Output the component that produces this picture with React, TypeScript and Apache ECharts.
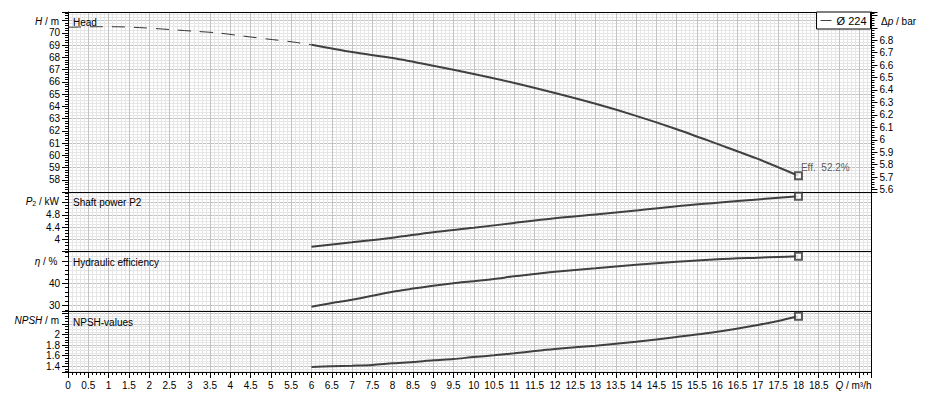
import React, { useEffect, useRef } from "react";
import * as echarts from "echarts";

// ---------- data ----------
// flow axis
const qMin = 0;
const qMax = 19.8;
const qLabelMax = 18.5;

// Head H / m  (dashed extrapolated part and solid operating part)
const headDashedQ = [0, 0.8, 1.4, 1.9, 2.5, 3.1, 3.7, 4.3, 4.9, 5.5, 6];
const headDashedH = [70.45, 70.5, 70.48, 70.4, 70.27, 70.13, 69.99, 69.74, 69.5, 69.27, 69.03];
const headQ = [6, 7, 8, 9, 10, 11, 12, 13, 14, 15, 16, 17, 18];
const headH = [69.03, 68.43, 67.94, 67.31, 66.63, 65.9, 65.08, 64.2, 63.22, 62.13, 60.93, 59.7, 58.33];

// Shaft power P2 / kW
const powerQ = [6, 7, 8, 9, 10, 11, 12, 13, 14, 15, 16, 17, 18];
const powerP = [3.77, 3.91, 4.06, 4.24, 4.38, 4.54, 4.69, 4.81, 4.94, 5.08, 5.19, 5.3, 5.4];

// Hydraulic efficiency / %
const effQ = [6, 6.5, 7, 7.5, 8, 8.5, 9, 9.5, 10, 10.5, 11, 11.5, 12, 13, 14, 15, 16, 17, 17.5, 18];
const effE = [29.5, 31.2, 32.6, 34.4, 36.2, 37.6, 38.9, 40.0, 40.9, 41.9, 43.1, 44.1, 45.1, 46.7, 48.3, 49.6, 50.7, 51.4, 51.7, 52.0];

// NPSH / m
const npshQ = [6, 6.5, 7, 7.5, 8, 8.5, 9, 9.5, 10, 10.5, 11, 11.5, 12, 13, 14, 15, 16, 17, 17.5, 18];
const npshN = [1.385, 1.398, 1.409, 1.423, 1.455, 1.479, 1.512, 1.536, 1.574, 1.606, 1.644, 1.688, 1.726, 1.788, 1.864, 1.953, 2.053, 2.18, 2.256, 2.345];

// end point annotation
const effAtEnd = 52.2;
const impellerName = "Ø 224";

// axis ranges and label ranges
const headRange = [57, 71.7];
const headLabels = [58, 70];
const dpRange = [5.58, 7.027];
const dpLabels = [5.6, 6.8];
const powerRange = [3.63, 5.54];
const powerLabels = [4, 4.8];
const effRange = [27.6, 54.4];
const effLabels = [30, 40];
const npshRange = [1.29, 2.445];
const npshLabels = [1.4, 2];

// ---------- styling ----------
const FONT = "'Liberation Sans', Arial, sans-serif";
const DARK_GRID = "#c3c3c3";
const LIGHT_GRID = "#e6e6e6";
const CURVE = "#404040";
const GRID_LEFT = 68;
const GRID_RIGHT = 67.5;
const panels = [
  { top: 12, height: 180 },
  { top: 192, height: 59 },
  { top: 251, height: 60 },
  { top: 311, height: 61 },
];

const isMult = (v: number, step: number) => Math.abs(v / step - Math.round(v / step)) < 1e-6;
const fmt = (v: number) => String(Math.round(v * 1000) / 1000);
const labelFn = (step: number, lo: number, hi: number) => (v: number) =>
  v >= lo - 1e-6 && v <= hi + 1e-6 && isMult(v, step) ? fmt(v) : "";

const zip = (a: number[], b: number[]) => a.map((x, i) => [x, b[i]]);

function buildOption(): any {
  const grids = panels.map((p) => ({
    left: GRID_LEFT,
    right: GRID_RIGHT,
    top: p.top,
    height: p.height,
    containLabel: false,
    outerBoundsMode: "none",
  }));

  const xAxes: any[] = panels.map((_, i) => ({
    type: "value",
    gridIndex: i,
    min: qMin,
    max: qMax,
    splitNumber: 40,
    minInterval: 0.5,
    maxInterval: 0.5,
    axisLine: { show: true, onZero: false, lineStyle: { color: "#000", width: 1 } },
    axisTick: { show: i === 3, length: 6, lineStyle: { color: "#000", width: 1 } },
    minorTick: { show: i === 3, splitNumber: 5, length: 3, lineStyle: { color: "#000", width: 1 } },
    axisLabel: {
      show: i === 3,
      margin: 8,
      color: "#000",
      fontSize: 10,
      fontFamily: FONT,
      formatter: labelFn(0.5, qMin, qLabelMax),
    },
    splitLine: { show: true, showMinLine: false, showMaxLine: false, lineStyle: { color: DARK_GRID, width: 1 } },
    minorSplitLine: { show: true, lineStyle: { color: LIGHT_GRID, width: 1 } },
  }));
  // top border of the head panel
  xAxes.push({
    type: "value",
    gridIndex: 0,
    position: "top",
    min: qMin,
    max: qMax,
    axisLine: { show: true, onZero: false, lineStyle: { color: "#000", width: 1 } },
    axisTick: { show: false },
    axisLabel: { show: false },
    splitLine: { show: false },
  });

  const leftAxis = (grid: number, range: number[], step: number, minorSplit: number, labels: number[], grid2: boolean) => ({
    type: "value",
    gridIndex: grid,
    position: "left",
    min: range[0],
    max: range[1],
    splitNumber: 30,
    minInterval: step,
    maxInterval: step,
    axisLine: { show: true, onZero: false, lineStyle: { color: "#000", width: 1 } },
    axisTick: { show: true, length: 6, lineStyle: { color: "#000", width: 1 } },
    minorTick: { show: true, splitNumber: minorSplit, length: 3, lineStyle: { color: "#000", width: 1 } },
    axisLabel: {
      show: true,
      margin: 8,
      color: "#000",
      fontSize: 10,
      fontFamily: FONT,
      formatter: labelFn(step, labels[0], labels[1]),
    },
    splitLine: { show: grid2, showMinLine: false, showMaxLine: false, lineStyle: { color: DARK_GRID, width: 1 } },
    minorSplitLine: { show: grid2, lineStyle: { color: LIGHT_GRID, width: 1 } },
  });

  const rightBorder = (grid: number) => ({
    type: "value",
    gridIndex: grid,
    position: "right",
    min: 0,
    max: 1,
    axisLine: { show: true, onZero: false, lineStyle: { color: "#000", width: 1 } },
    axisTick: { show: false },
    axisLabel: { show: false },
    splitLine: { show: false },
  });

  const yAxes: any[] = [
    // 0 head
    leftAxis(0, headRange, 1, 5, headLabels, false),
    // 1 delta p
    {
      type: "value",
      gridIndex: 0,
      position: "right",
      min: dpRange[0],
      max: dpRange[1],
      splitNumber: 30,
      minInterval: 0.1,
      maxInterval: 0.1,
      axisLine: { show: true, onZero: false, lineStyle: { color: "#000", width: 1 } },
      axisTick: { show: true, length: 6, lineStyle: { color: "#000", width: 1 } },
      minorTick: { show: true, splitNumber: 5, length: 3, lineStyle: { color: "#000", width: 1 } },
      axisLabel: {
        show: true,
        margin: 8,
        color: "#000",
        fontSize: 10,
        fontFamily: FONT,
        formatter: labelFn(0.1, dpLabels[0], dpLabels[1]),
      },
      splitLine: { show: false },
    },
    // 2 head grid (odd metres)
    {
      type: "value",
      gridIndex: 0,
      position: "left",
      min: 0,
      max: headRange[1] - headRange[0],
      splitNumber: 10,
      minInterval: 2,
      maxInterval: 2,
      axisLine: { show: false },
      axisTick: { show: false },
      minorTick: { show: false, splitNumber: 8 },
      axisLabel: { show: false },
      splitLine: { show: true, showMinLine: false, showMaxLine: false, lineStyle: { color: DARK_GRID, width: 1 } },
      minorSplitLine: { show: true, lineStyle: { color: LIGHT_GRID, width: 1 } },
    },
    // 3 power
    leftAxis(1, powerRange, 0.4, 4, powerLabels, true),
    rightBorder(1),
    // 5 efficiency
    leftAxis(2, effRange, 10, 5, effLabels, true),
    rightBorder(2),
    // 7 npsh
    leftAxis(3, npshRange, 0.2, 4, npshLabels, true),
    rightBorder(3),
  ];

  const curve = (name: string, x: number, y: number, data: number[][], extra: any = {}) => ({
    name,
    type: "line",
    xAxisIndex: x,
    yAxisIndex: y,
    data,
    smooth: 0.3,
    symbol: "none",
    lineStyle: { color: CURVE, width: 2 },
    itemStyle: { color: CURVE },
    z: 3,
    ...extra,
  });
  const endMarker = (x: number, y: number, qs: number[], vs: number[], label: any = { show: false }) => ({
    type: "scatter",
    xAxisIndex: x,
    yAxisIndex: y,
    data: [[qs[qs.length - 1], vs[vs.length - 1]]],
    symbol: "rect",
    symbolSize: 7,
    itemStyle: { color: "#fff", borderColor: "#333", borderWidth: 2 },
    label,
    z: 4,
  });

  const series = [
    curve("head-extrapolated", 0, 0, zip(headDashedQ, headDashedH), {
      lineStyle: { color: "#333", width: 1, type: [13, 9] },
    }),
    curve(impellerName, 0, 0, zip(headQ, headH)),
    endMarker(0, 0, headQ, headH, {
      show: true,
      position: "right",
      offset: [-7, -8],
      formatter: `Eff.  ${effAtEnd}%`,
      color: "#333",
      fontSize: 10,
      fontFamily: FONT,
    }),
    curve("power", 1, 3, zip(powerQ, powerP)),
    endMarker(1, 3, powerQ, powerP),
    curve("efficiency", 2, 5, zip(effQ, effE)),
    endMarker(2, 5, effQ, effE),
    curve("npsh", 3, 7, zip(npshQ, npshN)),
    endMarker(3, 7, npshQ, npshN),
  ];

  const txt = (x: number, y: number, text: string, align: string, rich?: any) => ({
    type: "text",
    x,
    y,
    z: 10,
    style: {
      text,
      fill: "#000",
      fontSize: 10,
      fontFamily: FONT,
      align,
      verticalAlign: "middle",
      rich,
    },
  });
  const it = { i: { fontStyle: "italic", fontSize: 10, fontFamily: FONT, fill: "#000" } };

  const graphic = [
    txt(59, 21, "{i|H} / m", "right", it),
    txt(59, 201, "{i|P}{s|2} / kW", "right", {
      ...it,
      s: { fontSize: 7, fontFamily: FONT, fill: "#000", padding: [5, 0, 0, 0] },
    }),
    txt(57.5, 261.5, "{i|η} / %", "right", it),
    txt(59, 320, "{i|NPSH} / m", "right", it),
    txt(881, 21, "Δ{i|p} / bar", "left", it),
    txt(871.5, 385.5, "{i|Q} / m³/h", "right", it),
    txt(73, 22.5, "Head", "left"),
    txt(73, 202.5, "Shaft power P2", "left"),
    txt(73, 262.5, "Hydraulic efficiency", "left"),
    txt(73, 322.5, "NPSH-values", "left"),
  ];

  return {
    animation: false,
    backgroundColor: "#fff",
    grid: grids,
    xAxis: xAxes,
    yAxis: yAxes,
    series,
    graphic,
    legend: {
      data: [impellerName],
      right: 68.5,
      top: 12,
      orient: "horizontal",
      icon: "rect",
      itemWidth: 11,
      itemHeight: 1,
      padding: [3, 4, 3, 4],
      backgroundColor: "#fff",
      borderColor: "#000",
      borderWidth: 1,
      borderRadius: 0,
      selectedMode: false,
      textStyle: { color: "#000", fontSize: 11, fontFamily: FONT },
    },
    tooltip: { show: false },
  };
}

export default function App() {
  const ref = useRef<HTMLDivElement>(null);
  useEffect(() => {
    document.body.style.margin = "0";
    const chart = echarts.init(ref.current as HTMLDivElement, null, { renderer: "svg" });
    chart.setOption(buildOption());
    return () => chart.dispose();
  }, []);
  return <div ref={ref} style={{ width: 939, height: 401 }} />;
}
